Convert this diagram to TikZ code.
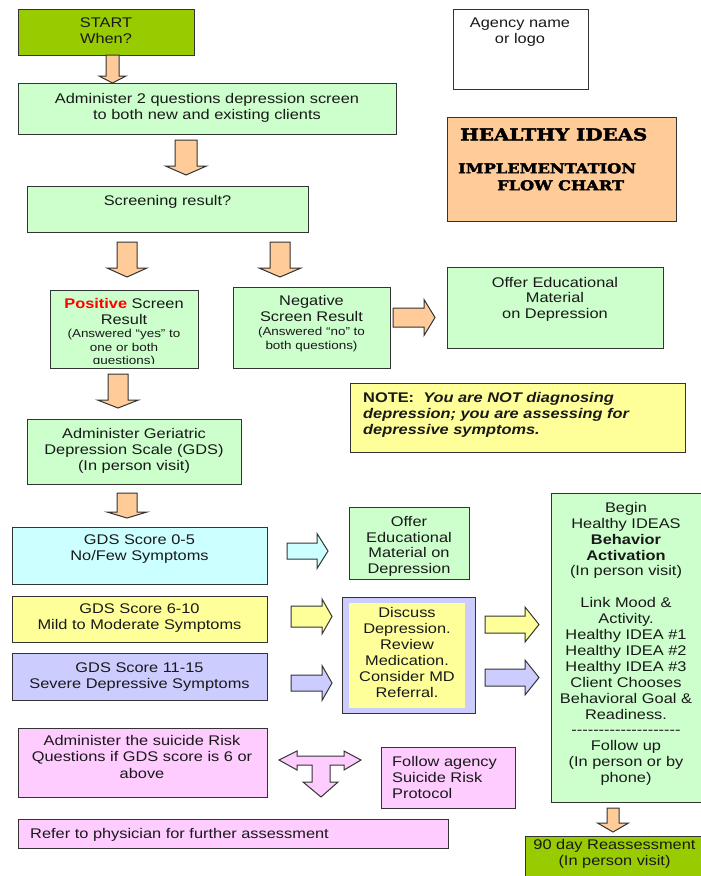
\documentclass[tikz,border=0pt]{standalone}
\usepackage{fontspec}
\setmainfont{Liberation Sans}[FakeStretch=1.17]
\newfontfamily\ttlfont{DejaVu Serif}[FakeStretch=1.2, FakeBold=2.5]
\definecolor{gLight}{HTML}{CCFFCC}
\definecolor{gDark}{HTML}{99CC00}
\definecolor{orng}{HTML}{FFCC99}
\definecolor{cyn}{HTML}{CCFFFF}
\definecolor{ylw}{HTML}{FFFF99}
\definecolor{lil}{HTML}{CCCCFF}
\definecolor{pnk}{HTML}{FFCCFF}
\definecolor{bordc}{HTML}{333333}
\tikzset{
  bx/.style={draw=bordc, line width=1.2pt, inner sep=0pt, anchor=north west},
  txt/.style={inner sep=0pt, align=center, anchor=north, font=\fontsize{14}{15.8}\selectfont, text=black!90},
  smalltxt/.style={txt, font=\fontsize{11.5}{13.6}\selectfont},
  ltxt/.style={txt, anchor=north west, align=left},
  arr/.style={draw=bordc, line width=1pt, line join=miter}
}
% box: name, fill, x1, y1, x2, y2
\newcommand\mkbox[6]{\node[bx, fill=#2, minimum width=#5-#3, minimum height=#6-#4] (#1) at (#3,#4) {};}
% down arrow: fill, cx, ytop, yheadstart, ytip, halfshaft, halfhead
\newcommand\arrD[7]{\filldraw[arr, fill=#1] (#2-#6,#3) -- (#2+#6,#3) -- (#2+#6,#4) -- (#2+#7,#4) -- (#2,#5) -- (#2-#7,#4) -- (#2-#6,#4) -- cycle;}
% right arrow: fill, cy, xleft, xheadstart, xtip, halfshaft, halfhead
\newcommand\arrR[7]{\filldraw[arr, fill=#1] (#3,#2-#6) -- (#4,#2-#6) -- (#4,#2-#7) -- (#5,#2) -- (#4,#2+#7) -- (#4,#2+#6) -- (#3,#2+#6) -- cycle;}
\begin{document}
\begin{tikzpicture}[x=1pt, y=-1pt]
\useasboundingbox[fill=white] (0,0) rectangle (701,876);

% ---------- boxes ----------
\mkbox{start}{gDark}{18}{9}{194}{55}
\mkbox{adm}{gLight}{18}{83}{396}{134}
\mkbox{scr}{gLight}{27}{186}{308}{232}
\mkbox{pos}{gLight}{50}{290}{198}{368}
\mkbox{neg}{gLight}{233}{287}{390}{368}
\mkbox{offa}{gLight}{447}{267}{663}{348}
\mkbox{note}{ylw}{350}{383}{685}{452}
\mkbox{gdsa}{gLight}{27}{419}{241}{484}
\mkbox{gzero}{cyn}{12}{527}{267}{584}
\mkbox{gsix}{ylw}{12}{596}{267}{642}
\mkbox{geleven}{lil}{12}{653}{267}{700}
\mkbox{offb}{gLight}{349}{507}{469}{579}
\mkbox{disc}{lil}{342}{597}{475}{713}
\node[inner sep=0pt, anchor=north west, fill=ylw, minimum width=116, minimum height=105] (discin) at (349,603) {};
\mkbox{begin}{gLight}{551}{493}{702}{802}
\mkbox{ninety}{gDark}{525}{836}{705}{882}
\mkbox{agency}{white}{453}{9}{588}{89}
\mkbox{title}{orng}{447}{117}{676}{221}
\mkbox{sui}{pnk}{18}{728}{267}{797}
\mkbox{follow}{pnk}{381}{747}{515}{808}
\mkbox{refer}{pnk}{18}{819}{448}{848}

% ---------- block arrows ----------
\arrD{orng}{112.5}{55}{76}{83}{6.5}{13.5}
\arrD{orng}{186}{140}{166}{175}{11}{20.5}
\arrD{orng}{127}{242}{268}{277}{10}{20}
\arrD{orng}{280}{242}{268}{277}{10}{21}
\arrR{orng}{317.5}{393}{424}{435}{9.5}{18}
\arrD{orng}{118}{374}{400}{408}{10}{20.5}
\arrD{orng}{127}{493}{512}{518}{10}{20}
\arrR{cyn}{551}{287}{317}{328}{8}{17.5}
\arrR{ylw}{616.5}{291}{322}{332}{10.5}{17.5}
\arrR{lil}{683}{291}{322}{332}{8}{17.5}
\arrR{ylw}{624.5}{485}{525}{539}{8.5}{17.5}
\arrR{lil}{677.5}{485}{525}{539}{8.5}{17.5}
\arrD{orng}{613}{808}{823}{832}{6}{15.5}
% T-shaped arrow
\filldraw[arr, fill=pnk] (279,760) -- (297,751) -- (297,756) -- (344,756) -- (344,751) -- (361,760)
  -- (344,770) -- (344,765) -- (330,765) -- (330,782) -- (338,782) -- (321,797) -- (303,782)
  -- (312,782) -- (312,765) -- (297,765) -- (297,770) -- cycle;

% ---------- texts ----------
\node[txt] (startT) at (106,18) {START\\When?};
\node[txt] (admT) at (207,93) {Administer 2 questions depression screen\\to both new and existing clients};
\node[txt] (scrT) at (167.5,195) {Screening result?};
\begin{scope}
  \clip (50,290) rectangle (198,363);
  \node[txt] (posT) at (124,298) {\textcolor{red}{\textbf{Positive}} Screen\\Result};
  \node[smalltxt] (posS) at (124,329) {(Answered ``yes'' to\\one or both\\questions)};
\end{scope}
\node[txt] (negT) at (311.5,295) {Negative\\Screen Result};
\node[smalltxt] (negS) at (311.5,327) {(Answered ``no'' to\\both questions)};
\node[txt, font=\fontsize{14}{15.5}\selectfont] (offaT) at (555,277) {Offer Educational\\Material\\on Depression};
\node[ltxt, font=\bfseries\fontsize{14}{16}\selectfont] (noteT) at (363,392) {NOTE:\ \ \textit{You are NOT diagnosing}\\\textit{depression; you are assessing for}\\\textit{depressive symptoms.}};
\node[txt, font=\fontsize{14}{16.2}\selectfont] (gdsaT) at (134,428) {Administer Geriatric\\Depression Scale (GDS)\\(In person visit)};
\node[txt] (gzeroT) at (139.5,535) {GDS Score 0-5\\No/Few Symptoms};
\node[txt] (gsixT) at (139.5,604) {GDS Score 6-10\\Mild to Moderate Symptoms};
\node[txt] (gelevenT) at (139.5,663) {GDS Score 11-15\\Severe Depressive Symptoms};
\node[txt, font=\fontsize{14}{15.7}\selectfont] (offbT) at (409,516) {Offer\\Educational\\Material on\\Depression};
\node[txt, font=\fontsize{14}{16}\selectfont] (discT) at (407,607) {Discuss\\Depression.\\Review\\Medication.\\Consider MD\\Referral.};
\node[txt, font=\fontsize{14}{15.9}\selectfont] (beginT) at (626,502) {Begin\\Healthy IDEAS\\\textbf{Behavior}\\\textbf{Activation}\\(In person visit)\\[15.9pt]Link Mood \&\\Activity.\\Healthy IDEA \#1\\Healthy IDEA \#2\\Healthy IDEA \#3\\Client Chooses\\Behavioral Goal \&\\Readiness.\\-{}-{}-{}-{}-{}-{}-{}-{}-{}-{}-{}-{}-{}-{}-{}-{}-{}-{}-{}-\\Follow up\\(In person or by\\phone)};
\node[txt, font=\fontsize{14}{16}\selectfont] (ninetyT) at (614.5,839) {90 day Reassessment\\(In person visit)};
\node[txt] (agencyT) at (520,18) {Agency name\\or logo};
\node[ltxt, font=\ttlfont\bfseries\fontsize{16.5}{18}\selectfont, text=black] (titleA) at (460,128) {HEALTHY IDEAS};
\node[ltxt, font=\ttlfont\bfseries\fontsize{13.5}{16}\selectfont, text=black] (titleB) at (458,163) {IMPLEMENTATION};
\node[ltxt, font=\ttlfont\bfseries\fontsize{13.5}{16}\selectfont, text=black] (titleC) at (497,180) {FLOW CHART};
\node[txt, font=\fontsize{14}{16.5}\selectfont] (suiT) at (142,735) {Administer the suicide Risk\\Questions if GDS score is 6 or\\above};
\node[ltxt, font=\fontsize{14}{16}\selectfont] (followT) at (392,756) {Follow agency\\Suicide Risk\\Protocol};
\node[ltxt] (referT) at (30,828) {Refer to physician for further assessment};
\end{tikzpicture}
\end{document}
